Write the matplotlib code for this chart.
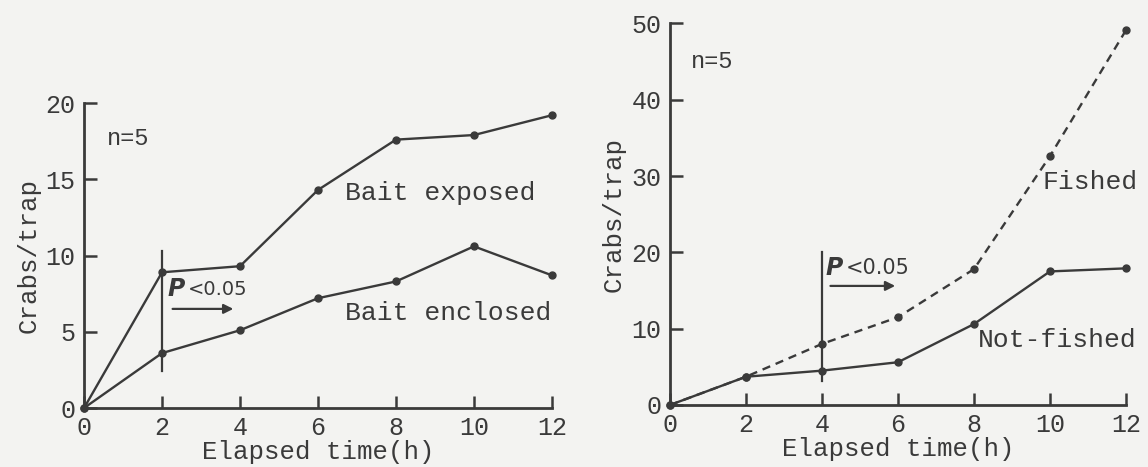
import matplotlib.pyplot as plt

# elapsed time (h)
hours = [0, 2, 4, 6, 8, 10, 12]

# left panel: bait treatment
bait_exposed = [0, 8.9, 9.3, 14.3, 17.6, 17.9, 19.2]
bait_enclosed = [0, 3.6, 5.1, 7.2, 8.3, 10.6, 8.7]

# right panel: fishing history
not_fished = [0, 3.7, 4.5, 5.6, 10.6, 17.5, 17.9]
fished = [0, 3.7, 8.0, 11.5, 17.8, 32.6, 49.1]

INK = '#3a3a3a'
PAPER = '#f3f3f1'
MONO = 'Liberation Mono'

fig = plt.figure(figsize=(11.48, 4.67), dpi=100, facecolor=PAPER)
ax1 = fig.add_axes([0.0732, 0.1263, 0.4076, 0.6531])
ax2 = fig.add_axes([0.5836, 0.1328, 0.3972, 0.8172])


def style_axes(ax, ymax, ystep):
    ax.set_facecolor(PAPER)
    for side in ('top', 'right'):
        ax.spines[side].set_visible(False)
    for side in ('left', 'bottom'):
        ax.spines[side].set_linewidth(2.0)
        ax.spines[side].set_color(INK)
    ax.set_xlim(0, 12)
    ax.set_ylim(0, ymax)
    ax.set_xticks(range(0, 13, 2))
    ax.set_yticks(range(0, ymax + 1, ystep))
    ax.tick_params(direction='in', length=9, width=1.8, color=INK,
                   labelcolor=INK, labelsize=18, pad=6)
    for lab in ax.get_xticklabels() + ax.get_yticklabels():
        lab.set_family(MONO)
    ax.set_xlabel('Elapsed time(h)', fontsize=18.5, family=MONO,
                  color=INK, labelpad=0)
    ax.set_ylabel('Crabs/trap', fontsize=18.5, family=MONO, color=INK)


def p_note(ax, x, y, arrow_y, x_end, size=14):
    ax.text(x, y, 'P', fontsize=17, style='italic', weight='bold',
            family='DejaVu Sans', color=INK, va='center')
    ax.text(x + 0.52, y, '<0.05', fontsize=size, family='DejaVu Sans',
            color=INK, va='center')
    ax.annotate('', xy=(x_end, arrow_y), xytext=(x + 0.05, arrow_y),
                arrowprops=dict(arrowstyle='-|>', color=INK, lw=1.6,
                                mutation_scale=14))


line_kw = dict(color=INK, lw=1.7, marker='o', ms=5, mfc=INK, mec=INK,
               clip_on=False)

# --- bait exposed vs. enclosed
style_axes(ax1, 20, 5)
ax1.plot(hours, bait_exposed, **line_kw)
ax1.plot(hours, bait_enclosed, **line_kw)
ax1.plot([2, 2], [2.4, 10.3], color=INK, lw=1.6)
p_note(ax1, 2.15, 7.8, 6.5, 3.9)
ax1.text(6.7, 14.1, 'Bait exposed', fontsize=19, family=MONO,
         color=INK, va='center')
ax1.text(6.7, 6.2, 'Bait enclosed', fontsize=19, family=MONO,
         color=INK, va='center')
ax1.text(0.6, 17.7, 'n=5', fontsize=17, family=MONO, color=INK,
         va='center')

# --- fished vs. not-fished grounds
style_axes(ax2, 50, 10)
ax2.plot(hours, not_fished, **line_kw)
ax2.plot(hours, fished, ls=(0, (3.5, 2.5)), **line_kw)
ax2.plot([4, 4], [3.2, 20], color=INK, lw=1.6)
p_note(ax2, 4.1, 18.0, 15.6, 6.0, size=15)
ax2.text(9.8, 29.2, 'Fished', fontsize=19, family=MONO, color=INK,
         va='center')
ax2.text(8.1, 8.5, 'Not-fished', fontsize=19, family=MONO, color=INK,
         va='center')
ax2.text(0.55, 45.0, 'n=5', fontsize=17, family=MONO, color=INK,
         va='center')

fig.savefig('out.png', dpi=100, facecolor=PAPER)
